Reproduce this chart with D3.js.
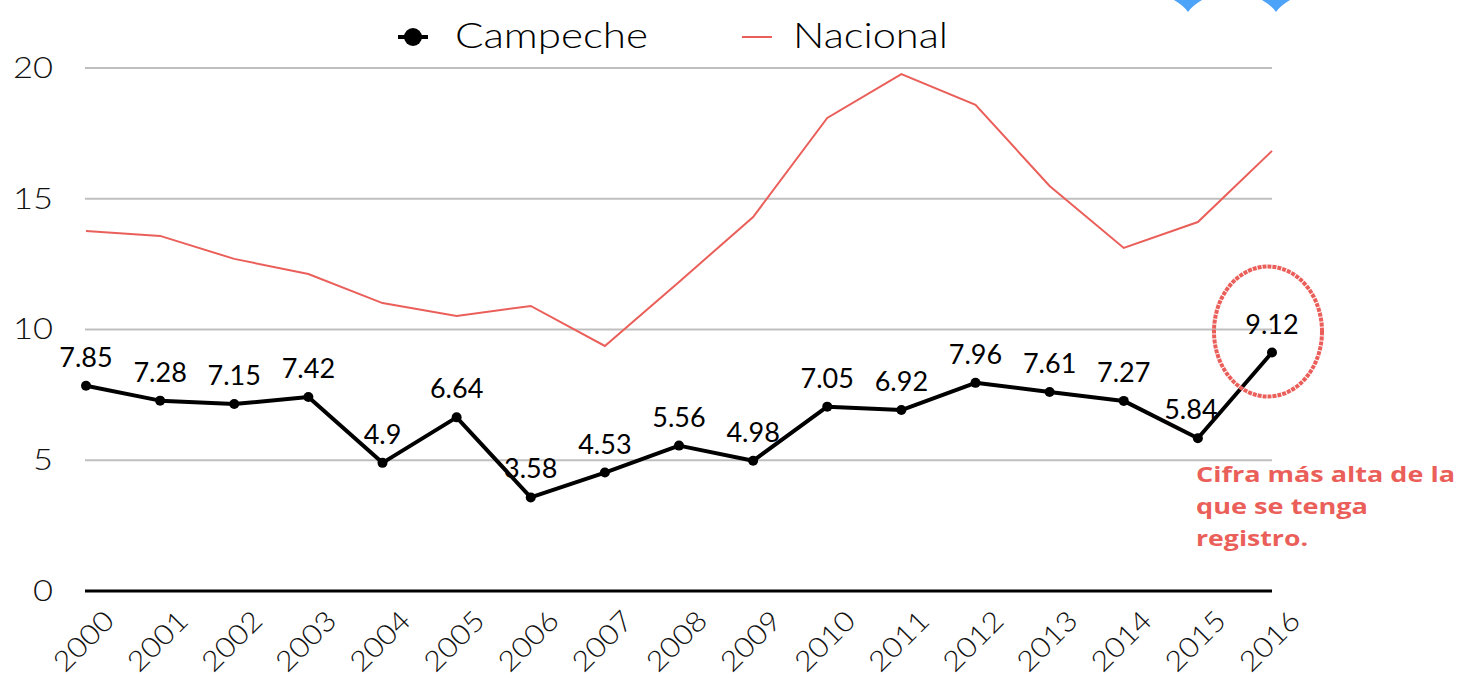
<!DOCTYPE html>
<html>
<head>
<meta charset="utf-8">
<script src="https://cdn.jsdelivr.net/npm/d3@7"></script>
<style>
  body { margin: 0; background: #fff; }
  svg { display: block; font-family: Lato, "Open Sans", sans-serif; }
</style>
</head>
<body>
<script>
// data
const years = ['2000','2001','2002','2003','2004','2005','2006','2007','2008',
  '2009','2010','2011','2012','2013','2014','2015','2016'];
const campeche = [7.85, 7.28, 7.15, 7.42, 4.9, 6.64, 3.58, 4.53, 5.56,
  4.98, 7.05, 6.92, 7.96, 7.61, 7.27, 5.84, 9.12];
const nacional = [13.77, 13.58, 12.70, 12.12, 11.01, 10.52, 10.90, 9.37, 11.82,
  14.30, 18.09, 19.77, 18.59, 15.49, 13.12, 14.11, 16.83];
const yTicks = [0, 5, 10, 15, 20];
const note = ['Cifra más alta de la', 'que se tenga', 'registro.'];

const W = 1457, H = 678;
const red = '#ea5f5a';

const svg = d3.select('body').append('svg')
  .attr('width', W)
  .attr('height', H);

const x = d3.scalePoint()
  .domain(years)
  .range([86, 1272]);

const y = d3.scaleLinear()
  .domain([0, 20])
  .range([591, 68]);

// gridlines
svg.append('g')
  .selectAll('line')
  .data(yTicks.filter(d => d > 0))
  .enter()
  .append('line')
  .attr('x1', 85)
  .attr('x2', 1272)
  .attr('y1', d => y(d))
  .attr('y2', d => y(d))
  .attr('stroke', '#bfbfbf')
  .attr('stroke-width', 2);

// y axis labels (the original font is wide, so stretch Lato a little)
const yAxis = svg.append('g')
  .attr('transform', 'translate(85,0)')
  .call(d3.axisLeft(y).tickValues(yTicks).tickSize(0).tickPadding(32));
yAxis.select('.domain').remove();
yAxis.selectAll('text')
  .attr('font-family', 'Lato, sans-serif')
  .attr('font-weight', 300)
  .attr('font-size', 29)
  .attr('fill', '#111')
  .attr('textLength', d => d < 10 ? 20 : 40)
  .attr('lengthAdjust', 'spacingAndGlyphs');

// x axis
const xAxis = svg.append('g')
  .attr('transform', `translate(0,${y(0)})`)
  .call(d3.axisBottom(x).tickSize(0).tickPadding(0));
xAxis.select('.domain')
  .attr('d', 'M85,0H1272')
  .attr('stroke', '#000')
  .attr('stroke-width', 3);
xAxis.selectAll('text')
  .attr('font-family', 'Lato, sans-serif')
  .attr('font-weight', 300)
  .attr('font-size', 28)
  .attr('fill', '#111')
  .attr('text-anchor', 'middle')
  .attr('dy', null)
  .attr('y', 0)
  .attr('textLength', 72)
  .attr('lengthAdjust', 'spacingAndGlyphs')
  .attr('transform', 'translate(-1,52) rotate(-45)')
  .attr('dominant-baseline', 'middle');

// nacional line
svg.append('path')
  .datum(nacional)
  .attr('fill', 'none')
  .attr('stroke', red)
  .attr('stroke-width', 2)
  .attr('d', d3.line().x((d, i) => x(years[i])).y(d => y(d)));

// campeche line
svg.append('path')
  .datum(campeche)
  .attr('fill', 'none')
  .attr('stroke', '#000')
  .attr('stroke-width', 4)
  .attr('stroke-linejoin', 'round')
  .attr('d', d3.line().x((d, i) => x(years[i])).y(d => y(d)));

svg.append('g')
  .selectAll('circle')
  .data(campeche)
  .enter()
  .append('circle')
  .attr('cx', (d, i) => x(years[i]))
  .attr('cy', d => y(d))
  .attr('r', 5)
  .attr('fill', '#000');

// data labels
svg.append('g')
  .selectAll('text')
  .data(campeche)
  .enter()
  .append('text')
  .attr('x', (d, i) => x(years[i]) + (i === 15 ? -7 : 0))
  .attr('y', d => y(d) - 19)
  .attr('text-anchor', 'middle')
  .attr('font-size', 27)
  .attr('fill', '#000')
  .text(d => d);

// highlight ring around last value
const last = campeche.length - 1;
svg.append('ellipse')
  .attr('cx', x(years[last]) - 4)
  .attr('cy', y(campeche[last]) - 21)
  .attr('rx', 54)
  .attr('ry', 65)
  .attr('fill', 'none')
  .attr('stroke', red)
  .attr('stroke-width', 4)
  .attr('stroke-dasharray', '4 1');

const noteWidths = [259, 172, 112];
svg.append('text')
  .attr('x', 1196)
  .attr('y', 482)
  .attr('font-family', '"Open Sans", sans-serif')
  .attr('font-weight', 700)
  .attr('font-size', 22)
  .attr('fill', red)
  .selectAll('tspan')
  .data(note)
  .enter()
  .append('tspan')
  .attr('x', 1196)
  .attr('dy', (d, i) => i === 0 ? 0 : 32)
  .attr('textLength', (d, i) => noteWidths[i])
  .attr('lengthAdjust', 'spacingAndGlyphs')
  .text(d => d);

// legend
const legend = svg.append('g').attr('font-family', 'Lato, sans-serif').attr('font-weight', 300);
legend.append('line')
  .attr('x1', 398).attr('x2', 428).attr('y1', 37).attr('y2', 37)
  .attr('stroke', '#000').attr('stroke-width', 4);
legend.append('circle')
  .attr('cx', 413).attr('cy', 37).attr('r', 9).attr('fill', '#000');
legend.append('text')
  .attr('x', 455).attr('y', 48)
  .attr('font-size', 35)
  .attr('textLength', 193)
  .attr('lengthAdjust', 'spacingAndGlyphs')
  .text('Campeche');
legend.append('line')
  .attr('x1', 742).attr('x2', 772).attr('y1', 37).attr('y2', 37)
  .attr('stroke', red).attr('stroke-width', 2);
legend.append('text')
  .attr('x', 793).attr('y', 48)
  .attr('font-size', 35)
  .attr('textLength', 155)
  .attr('lengthAdjust', 'spacingAndGlyphs')
  .text('Nacional');

// blue pin tips peeking in at the top edge
const pin = d3.path();
[1188, 1276].forEach(cx => {
  pin.moveTo(cx - 14, 0);
  pin.lineTo(cx + 14, 0);
  pin.quadraticCurveTo(cx + 4, 6, cx, 12);
  pin.quadraticCurveTo(cx - 4, 6, cx - 14, 0);
  pin.closePath();
});
svg.append('path')
  .attr('d', pin.toString())
  .attr('fill', '#4da3f7');
</script>
</body>
</html>
